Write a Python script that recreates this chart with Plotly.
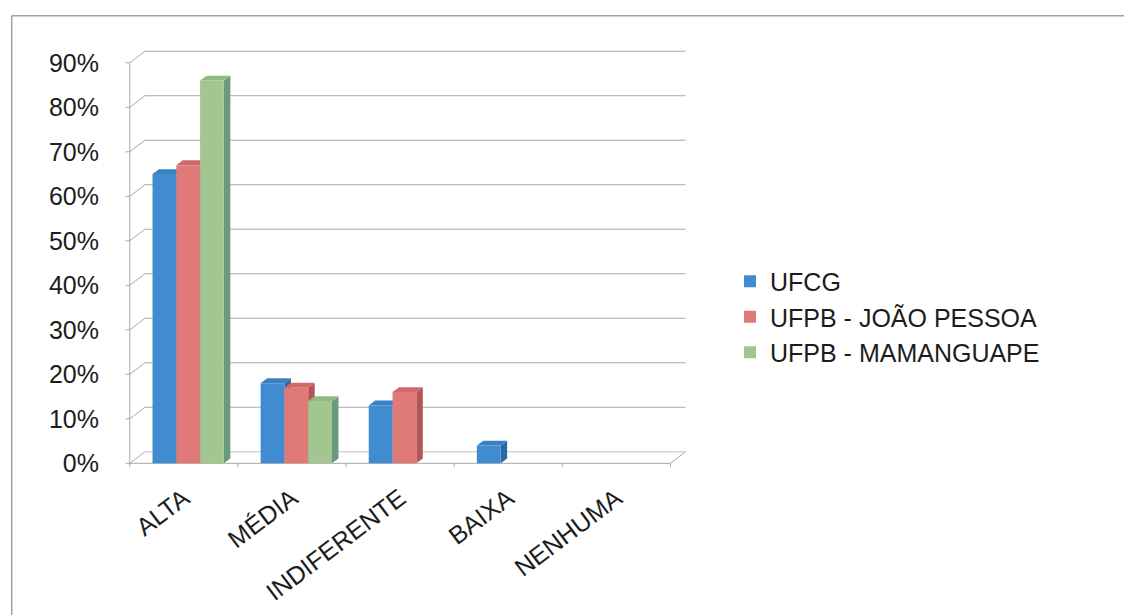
import plotly.graph_objects as go

# ---- data -------------------------------------------------------------
categories = ["ALTA", "MÉDIA", "INDIFERENTE", "BAIXA", "NENHUMA"]
series_names = ["UFCG", "UFPB - JOÃO PESSOA", "UFPB - MAMANGUAPE"]
ufcg = [65, 18, 13, 4, 0]
ufpb_joao_pessoa = [67, 17, 16, 0, 0]
ufpb_mamanguape = [86, 14, 0, 0, 0]
y_ticks = [0, 10, 20, 30, 40, 50, 60, 70, 80, 90]
y_tick_labels = [f"{v}%" for v in y_ticks]

series_values = [ufcg, ufpb_joao_pessoa, ufpb_mamanguape]

# ---- styling ----------------------------------------------------------
front_colors = ["#418cd0", "#e07a78", "#a3c58f"]
side_colors = ["#2c68a3", "#b55656", "#6a9a7c"]
top_colors = ["#3a80c4", "#d06a68", "#93b982"]
grid_color = "#a8a8a8"
font_family = "Arial, Liberation Sans, sans-serif"
text_color = "#1c1c1c"

W, H = 1124, 615
L, R, T, B = 119.2, 432.4, 45.2, 145.3
X_RANGE = [-0.6, 4.7]
Y_RANGE = [-1.5, 94]

BAR_W = 0.22          # width of each column's front face (category units)
GROUP_SHIFT = 0.04    # the cluster sits slightly right of the category centre
DEPTH_X, DEPTH_Y = 0.06, 1.1    # extrusion of each column (x units, % units)
WALL_X, WALL_Y = 0.14, 2.6      # offset of the back wall / floor edge

fig = go.Figure()

# front faces of the columns
for k, (name, vals) in enumerate(zip(series_names, series_values)):
    xs = [i + GROUP_SHIFT + (k - 1) * BAR_W for i in range(len(categories))]
    fig.add_trace(go.Bar(
        x=xs, y=vals, width=BAR_W, name=name,
        marker=dict(color=front_colors[k], line=dict(width=0)),
        legendgroup=name, hoverinfo="skip",
    ))

shapes = []

def seg(x0, y0, x1, y1, color=grid_color, width=1):
    shapes.append(dict(type="line", xref="x", yref="y", x0=x0, y0=y0, x1=x1, y1=y1,
                       line=dict(color=color, width=width), layer="below"))

n = len(categories)
left, right = -0.5, n - 0.5

# back wall gridlines and their diagonal links to the front value axis
for v in y_ticks:
    seg(left + WALL_X, v + WALL_Y, right + WALL_X, v + WALL_Y,
        color="#c4c4c4" if v == 0 else grid_color)
    seg(left, v, left + WALL_X, v + WALL_Y)
    seg(left - 0.04, v, left, v)                      # tick mark on value axis

# front value axis and floor edges
seg(left, 0, left, y_ticks[-1])
seg(left, 0, right, 0)
seg(right, 0, right + WALL_X, WALL_Y)
for i in range(n + 1):
    seg(left + i, 0, left + i, -0.9)                  # category tick marks

# 3-D faces of every column (drawn series by series so nearer faces win)
for k, vals in enumerate(series_values):
    for i, v in enumerate(vals):
        if v <= 0:
            continue
        x0 = i + GROUP_SHIFT + (k - 1) * BAR_W - BAR_W / 2
        x1 = x0 + BAR_W
        side = (f"M {x1},0 L {x1 + DEPTH_X},{DEPTH_Y} "
                f"L {x1 + DEPTH_X},{v + DEPTH_Y} L {x1},{v} Z")
        top = (f"M {x0},{v} L {x0 + DEPTH_X},{v + DEPTH_Y} "
               f"L {x1 + DEPTH_X},{v + DEPTH_Y} L {x1},{v} Z")
        shapes.append(dict(type="path", xref="x", yref="y", path=side,
                           fillcolor=side_colors[k], line=dict(width=0), layer="below"))
        shapes.append(dict(type="path", xref="x", yref="y", path=top,
                           fillcolor=top_colors[k], line=dict(width=0), layer="below"))

# outer chart frame (top and left edges)
plot_w, plot_h = W - L - R, H - T - B
def px(xp):
    return (xp - L) / plot_w
def py(yp):
    return (H - B - yp) / plot_h

shapes.append(dict(type="line", xref="paper", yref="paper",
                   x0=px(12), y0=py(16), x1=px(W), y1=py(16),
                   line=dict(color="#a0a0a0", width=1.5)))
shapes.append(dict(type="line", xref="paper", yref="paper",
                   x0=px(12), y0=py(16), x1=px(12), y1=py(H),
                   line=dict(color="#a0a0a0", width=1.5)))

fig.update_layout(
    width=W, height=H,
    margin=dict(l=L, r=R, t=T, b=B, autoexpand=False),
    paper_bgcolor="white", plot_bgcolor="rgba(0,0,0,0)",
    barmode="overlay",
    shapes=shapes,
    font=dict(family=font_family, size=25, color=text_color),
    showlegend=True,
    legend=dict(
        xref="container", yref="container",
        x=730 / W, y=1 - 317 / H, xanchor="left", yanchor="middle",
        font=dict(family=font_family, size=25, color=text_color),
        bgcolor="rgba(0,0,0,0)", tracegroupgap=3, traceorder="normal",
    ),
    xaxis=dict(
        range=X_RANGE, tickmode="array",
        tickvals=list(range(n)), ticktext=categories,
        tickangle=-37, ticks="", showgrid=False, zeroline=False, showline=False,
        ticklabelstandoff=8,
        tickfont=dict(family=font_family, size=25, color=text_color),
    ),
    yaxis=dict(
        range=Y_RANGE, tickmode="array",
        tickvals=y_ticks, ticktext=y_tick_labels,
        ticks="", showgrid=False, zeroline=False, showline=False,
        ticklabelstandoff=19,
        tickfont=dict(family=font_family, size=25, color=text_color),
    ),
)

fig.write_html("out.html")
